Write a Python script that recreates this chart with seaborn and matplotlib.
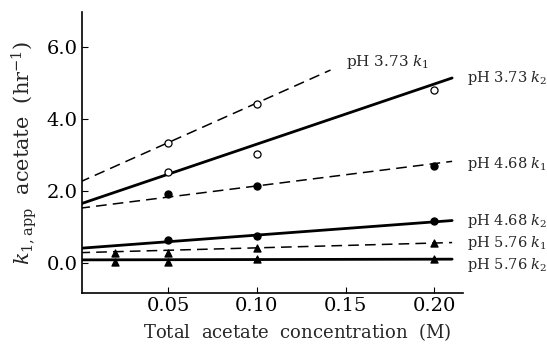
import matplotlib
matplotlib.use("Agg")
import matplotlib.pyplot as plt
import seaborn as sns
import pandas as pd

sns.set_theme(style="ticks")
plt.rcParams['font.family'] = ['DejaVu Serif', 'Liberation Serif']
plt.rcParams['mathtext.fontset'] = 'dejavuserif'

# measured points
x_pts = {
    "pH 3.73 k1": [0.05, 0.10],
    "pH 3.73 k2": [0.05, 0.10, 0.20],
    "pH 4.68 k1": [0.05, 0.10, 0.20],
    "pH 4.68 k2": [0.05, 0.10, 0.20],
    "pH 5.76 k1": [0.02, 0.05, 0.10, 0.20],
    "pH 5.76 k2": [0.02, 0.05, 0.10, 0.20],
}
y_pts = {
    "pH 3.73 k1": [3.33, 4.42],
    "pH 3.73 k2": [2.53, 3.03, 4.81],
    "pH 4.68 k1": [1.92, 2.14, 2.69],
    "pH 4.68 k2": [0.64, 0.75, 1.17],
    "pH 5.76 k1": [0.28, 0.28, 0.42, 0.56],
    "pH 5.76 k2": [0.05, 0.05, 0.12, 0.12],
}
# fitted lines (endpoints)
x_line = {
    "pH 3.73 k1": [0.0, 0.1415],
    "pH 3.73 k2": [0.0, 0.21],
    "pH 4.68 k1": [0.0, 0.21],
    "pH 4.68 k2": [0.0, 0.21],
    "pH 5.76 k1": [0.0, 0.21],
    "pH 5.76 k2": [0.0, 0.21],
}
y_line = {
    "pH 3.73 k1": [2.25, 5.36],
    "pH 3.73 k2": [1.64, 5.14],
    "pH 4.68 k1": [1.53, 2.83],
    "pH 4.68 k2": [0.42, 1.19],
    "pH 5.76 k1": [0.30, 0.58],
    "pH 5.76 k2": [0.10, 0.12],
}
labels = {
    "pH 3.73 k1": r"pH 3.73 $k_1$",
    "pH 3.73 k2": r"pH 3.73 $k_2$",
    "pH 4.68 k1": r"pH 4.68 $k_1$",
    "pH 4.68 k2": r"pH 4.68 $k_2$",
    "pH 5.76 k1": r"pH 5.76 $k_1$",
    "pH 5.76 k2": r"pH 5.76 $k_2$",
}

style = {
    "pH 3.73 k1": dict(ls=(0, (7, 4)), lw=1.1, marker="o", fc="white"),
    "pH 3.73 k2": dict(ls="-", lw=2.0, marker="o", fc="white"),
    "pH 4.68 k1": dict(ls=(0, (7, 4)), lw=1.1, marker="o", fc="black"),
    "pH 4.68 k2": dict(ls="-", lw=2.0, marker="o", fc="black"),
    "pH 5.76 k1": dict(ls=(0, (7, 4)), lw=1.1, marker="^", fc="black"),
    "pH 5.76 k2": dict(ls="-", lw=2.0, marker="^", fc="black"),
}

fig = plt.figure(figsize=(5.47, 3.51), dpi=100)
ax = fig.add_axes([0.150, 0.165, 0.696, 0.801])

for key in x_pts:
    st = style[key]
    ldf = pd.DataFrame({"x": x_line[key], "y": y_line[key]})
    sns.lineplot(data=ldf, x="x", y="y", ax=ax, color="black",
                 linewidth=st["lw"], linestyle=st["ls"])
    pdf = pd.DataFrame({"x": x_pts[key], "y": y_pts[key]})
    sns.scatterplot(data=pdf, x="x", y="y", ax=ax, marker=st["marker"],
                    s=26, facecolor=st["fc"], edgecolor="black",
                    linewidth=0.9, zorder=3)

ax.set_xlim(0.0015, 0.216)
ax.set_ylim(-0.82, 6.97)
ax.set_xticks([0.05, 0.10, 0.15, 0.20])
ax.set_xticklabels(["0.05", "0.10", "0.15", "0.20"])
ax.set_yticks([0.0, 2.0, 4.0, 6.0])
ax.set_yticklabels(["0.0", "2.0", "4.0", "6.0"])
ax.tick_params(direction="in", length=4, width=0.8, labelsize=14, colors="black", pad=3)
for s in ["top", "right"]:
    ax.spines[s].set_visible(False)
for s in ["left", "bottom"]:
    ax.spines[s].set_linewidth(1.2)
    ax.spines[s].set_color("black")

ax.set_xlabel(r"Total  acetate  concentration  (${\rm M}$)", fontsize=13)
ax.xaxis.set_label_coords(0.565, -0.10)
ax.set_ylabel(r"$k_{1,{\rm app}}$  acetate  (hr$^{-1}$)", fontsize=15, labelpad=6)

# series labels
ax.text(0.150, 5.58, labels["pH 3.73 k1"], fontsize=11, ha="left", va="center")
right_y = {
    "pH 3.73 k2": 5.14,
    "pH 4.68 k1": 2.75,
    "pH 4.68 k2": 1.19,
    "pH 5.76 k1": 0.56,
    "pH 5.76 k2": -0.03,
}
for key, yy in right_y.items():
    ax.text(1.01, yy, labels[key], fontsize=10.5, ha="left", va="center",
            transform=ax.get_yaxis_transform(), clip_on=False)

fig.savefig("out.png", dpi=100)
